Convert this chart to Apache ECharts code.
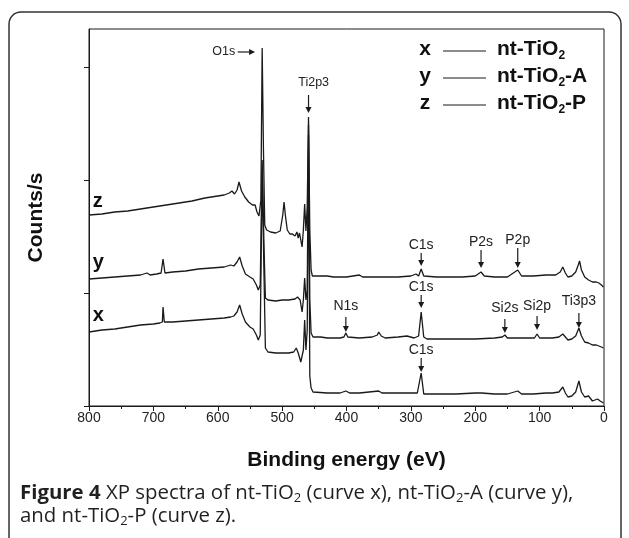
<!DOCTYPE html>
<html><head><meta charset="utf-8">
<script src="https://cdn.jsdelivr.net/npm/echarts@6/dist/echarts.min.js"></script>
<style>html,body{margin:0;padding:0;background:#fff}#c{width:629px;height:538px}</style>
</head><body><div id="c"></div>
<script>
// Binding energy (eV) and relative intensity (arbitrary units) for each spectrum
const energyZ = [800,780,760,740,720,700,680,660,640,620,600,590,582,578,574,570,567,563,558,552,546,542,539,536,533,531,529,527,524,518,510,503,499,497,495,492,488,484,480,477,475,473,471,469,467,465,463,461,459,457,455,453,445,430,420,400,380,375,350,320,300,292,288,284,280,260,240,220,200,191,186,170,150,134,128,110,90,75,68,64,60,56,50,44,40,38,35,30,24,22,18,12,8,4,1];
const countsZ = [191,192,194,195,197,199,201,203,205,208,210,211,213,215,212,216,224,215,209,204,201,201,194,190,206,358,256,181,176,174,173,175,191,204,191,176,172,172,170,174,168,173,166,159,176,202,175,200,289,176,136,130,130,130,129,129,131,129,129,129,130,132,130,137,130,129,129,129,130,134,130,129,129,136,130,130,131,131,134,139,133,129,130,134,141,145,136,129,126,127,124,124,123,121,119];

const energyY = [800,780,760,740,720,710,705,695,688,685,682,670,650,630,610,590,580,575,570,566,562,557,550,545,540,537,534,531,528,526,522,510,500,490,480,476,472,469,467,465,463,461,459,457,455,452,440,430,410,404,401,398,380,360,352,350,346,340,320,306,295,288,284,280,275,250,220,200,170,158,154,150,130,108,104,100,80,70,64,60,56,50,44,39,35,30,24,22,18,12,8,4,1];
const countsY = [127,128,129,130,131,133,131,132,133,147,133,134,135,137,138,139,141,140,144,149,140,132,129,127,121,116,121,246,156,108,106,105,106,106,107,109,106,94,106,128,106,116,281,106,73,69,69,68,68,69,73,69,68,69,71,74,70,68,69,70,68,70,94,69,67,67,67,67,68,69,71,68,68,68,72,68,68,69,72,69,66,67,70,78,70,64,63,64,61,61,60,59,58];

const energyX = [800,780,760,740,720,700,690,686,685,683,670,650,630,610,590,580,575,570,566,562,557,550,545,540,537,534,531,528,526,522,510,500,490,482,478,475,471,469,467,465,463,461,459,457,455,452,430,410,401,395,380,350,345,320,300,290,284,280,260,230,200,190,170,150,134,128,110,90,80,70,64,60,56,50,44,39,35,30,24,22,18,14,10,6,1];
const countsX = [74,76,77,79,81,82,83,84,99,84,84,85,86,87,88,89,90,94,101,92,84,79,77,71,66,71,236,126,58,54,53,53,53,54,58,53,44,43,56,86,56,76,271,30,18,14,13,13,15,13,13,15,13,13,13,13,33,12,12,12,13,13,12,12,15,12,12,13,13,14,19,13,9,10,14,25,14,9,10,10,5,6,7,5,3];

const xTicks = [800,700,600,500,400,300,200,100,0];
const yTicks = [0,113,226,339];

// Peak annotations: label, energy, label value, arrow start value, arrow end value
const peakLabels = ['C1s','P2s','P2p','C1s','N1s','Si2s','Si2p','Ti3p3','C1s'];
const peakEnergy = [284,191,134,284,401,154,104,39,284];
const peakTextV  = [161,164,166,119,100,98,100,105,56];
const peakFromV  = [153,156,158,111,89,87,90,93,48];
const peakToV    = [140,138,138,98,74,73,76,78,34];

const curveNames = ['x','y','z'];
const curveNameValue = [91,144,205];
const legendNames = ['nt-TiO{s|2}','nt-TiO{s|2}{a|-A}','nt-TiO{s|2}{a|-P}'];

const FONT = '"Liberation Sans", Arial, Helvetica, sans-serif';
const INK = '#1a1a1a';
const zip = (e, c) => e.map((v, i) => [v, c[i]]);

const chart = echarts.init(document.getElementById('c'), null, {renderer: 'canvas'});
const lineSeries = (name, data) => ({
  name, type: 'line', data, symbol: 'none', xAxisIndex: 0, yAxisIndex: 0,
  lineStyle: {color: INK, width: 1.3}, animation: false, z: 3
});

chart.setOption({
  animation: false,
  backgroundColor: '#fff',
  grid: {left: 89, right: 25, top: 29, bottom: 132, show: true, borderColor: INK, borderWidth: 1, backgroundColor: 'transparent'},
  xAxis: [{
    type: 'value', min: 0, max: 800, interval: 100, inverse: true,
    axisLine: {onZero: false, lineStyle: {color: INK, width: 1}},
    axisTick: {length: 5, lineStyle: {color: INK}},
    axisLabel: {color: '#222', fontSize: 14, fontFamily: FONT, margin: 5},
    splitLine: {show: false},
    name: 'Binding energy (eV)', nameLocation: 'middle', nameGap: 44,
    nameTextStyle: {fontSize: 21, fontWeight: 'bold', fontFamily: FONT, color: '#111'}
  }, {
    type: 'value', min: 0, max: 800, interval: 50, inverse: true, position: 'bottom',
    axisLine: {show: false, onZero: false}, axisTick: {inside: false, length: 3, lineStyle: {color: INK}},
    axisLabel: {show: false}, splitLine: {show: false}
  }],
  yAxis: {
    type: 'value', min: 0, max: 377, position: 'left',
    axisLine: {show: true, onZero: false, lineStyle: {color: INK}},
    axisTick: {show: true, inside: false, length: 5, lineStyle: {color: INK}, customValues: yTicks},
    axisLabel: {show: false, customValues: yTicks}, splitLine: {show: false},
    name: 'Counts/s', nameLocation: 'middle', nameRotate: 90, nameGap: 42,
    nameTextStyle: {fontSize: 21, fontWeight: 'bold', fontFamily: FONT, color: '#111'}
  },
  series: [
    lineSeries('x', zip(energyX, countsX)),
    lineSeries('y', zip(energyY, countsY)),
    lineSeries('z', zip(energyZ, countsZ))
  ]
});

const px = (e, v) => chart.convertToPixel({seriesIndex: 0}, [e, v]);
const g = [];
function arrow(a, b, head, w) {
  const dx = b[0] - a[0], dy = b[1] - a[1];
  const L = Math.hypot(dx, dy), ux = dx / L, uy = dy / L;
  const bx = b[0] - ux * head, by = b[1] - uy * head;
  g.push({type: 'line', shape: {x1: a[0], y1: a[1], x2: bx, y2: by}, style: {stroke: INK, lineWidth: 1.2}, z: 10});
  g.push({type: 'polygon', shape: {points: [[b[0], b[1]], [bx - uy * w, by + ux * w], [bx + uy * w, by - ux * w]]}, style: {fill: INK}, z: 10});
}
// Peak labels with arrows
peakLabels.forEach((t, i) => {
  const p = px(peakEnergy[i], peakTextV[i]);
  g.push({type: 'text', x: p[0], y: p[1], z: 10, style: {text: t, font: '14px ' + FONT, fill: '#222', align: 'center', verticalAlign: 'middle'}});
  arrow(px(peakEnergy[i], peakFromV[i]), px(peakEnergy[i], peakToV[i]), 6, 3);
});
// O1s and Ti2p3 (top)
const o1 = px(573, 354);
g.push({type: 'text', x: o1[0], y: o1[1], z: 10, style: {text: 'O1s', font: '12.5px ' + FONT, fill: '#222', align: 'right', verticalAlign: 'middle'}});
arrow(px(569, 354), px(542, 354), 6, 3);
const ti = px(451, 323);
g.push({type: 'text', x: ti[0], y: ti[1], z: 10, style: {text: 'Ti2p3', font: '12.5px ' + FONT, fill: '#222', align: 'center', verticalAlign: 'middle'}});
arrow(px(459, 311), px(459, 293), 6, 3);
// Curve letters
curveNames.forEach((t, i) => {
  const p = px(794, curveNameValue[i]);
  g.push({type: 'text', x: p[0], y: p[1], z: 10, style: {text: t, font: 'bold 20px ' + FONT, fill: '#111', align: 'left', verticalAlign: 'middle'}});
});
// Legend
const rowY = [49, 76, 103];
curveNames.forEach((t, i) => {
  g.push({type: 'text', x: 425, y: rowY[i], z: 10, style: {text: t, font: 'bold 21px ' + FONT, fill: '#111', align: 'center', verticalAlign: 'middle'}});
  g.push({type: 'line', shape: {x1: 443, y1: rowY[i] + 2, x2: 486, y2: rowY[i] + 2}, style: {stroke: INK, lineWidth: 1.2}, z: 10});
  g.push({type: 'text', x: 497, y: rowY[i], z: 10, style: {
    text: '{a|' + legendNames[i].replace('nt-TiO', 'nt-TiO}'), align: 'left', verticalAlign: 'middle',
    rich: {
      a: {fontSize: 21, fontWeight: 'bold', fontFamily: FONT, fill: '#111', lineHeight: 26},
      s: {fontSize: 12, fontWeight: 'bold', fontFamily: FONT, fill: '#111', lineHeight: 12, verticalAlign: 'bottom'}
    }}});
});
// Outer frame
g.push({type: 'rect', shape: {x: 9, y: 12, width: 612, height: 545, r: 12}, style: {fill: 'none', stroke: '#333', lineWidth: 1.5}, z: 1});
// Caption
const CF = '"Open Sans", "Noto Sans", sans-serif';
g.push({type: 'text', x: 20, y: 482, z: 10, style: {
  text: '{b|Figure 4}{n| XP spectra of nt-TiO}{s|2}{n| (curve x), nt-TiO}{s|2}{n|-A (curve y),}\n{n|and nt-TiO}{s|2}{n|-P (curve z).}',
  align: 'left', verticalAlign: 'top',
  rich: {
    b: {fontSize: 20.4, fontWeight: 'bold', fontFamily: CF, fill: '#231f20', lineHeight: 23},
    n: {fontSize: 20.4, fontFamily: CF, fill: '#231f20', lineHeight: 23},
    s: {fontSize: 13, fontFamily: CF, fill: '#231f20', lineHeight: 13, verticalAlign: 'bottom'}
  }}});
chart.setOption({graphic: g});
</script>
</body></html>
